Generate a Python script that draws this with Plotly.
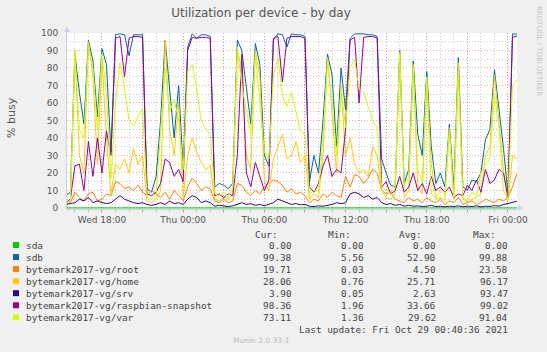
import plotly.graph_objects as go
import pandas as pd

# ---------------- data ----------------
times = pd.date_range("2021-10-27 15:20", "2021-10-29 00:40", freq="20min")

sda = [0, 0, 0, 0, 0, 0, 0, 0, 0, 0, 0, 0, 0, 0, 0, 0, 0, 0, 0, 0,
       0, 0, 0, 0, 0, 0, 0, 0, 0, 0, 0, 0, 0, 0, 0, 0, 0, 0, 0, 0,
       0, 0, 0, 0, 0, 0, 0, 0, 0, 0, 0, 0, 0, 0, 0, 0, 0, 0, 0, 0,
       0, 0, 0, 0, 0, 0, 0, 0, 0, 0, 0, 0, 0, 0, 0, 0, 0, 0, 0, 0,
       0, 0, 0, 0, 0, 0, 0, 0, 0, 0, 0, 0, 0, 0, 0, 0, 0, 0, 0, 0,
       0]

sdb = [7, 9, 88, 66, 48, 96, 84, 52, 91, 82,
       32, 99, 99.5, 99, 87, 99, 99, 99, 11, 9,
       18, 50, 96, 66, 40, 70, 22, 92, 99.5, 97,
       99, 99, 98, 12, 14, 13, 11, 14, 96, 90,
       70, 48, 94, 82, 30, 24, 96, 99.5, 99, 92,
       99.5, 99, 99, 98, 15, 30, 20, 50, 88, 76,
       35, 80, 56, 97, 99.5, 99.5, 99.5, 99, 99, 98,
       28, 20, 13, 12, 90, 14, 22, 84, 42, 30,
       78, 35, 14, 20, 12, 48, 11, 86, 12, 10,
       16, 15, 20, 39, 45, 79, 57, 34, 8, 99.5,
       99.38]

root = [2, 3, 9, 6, 4, 8, 9, 4, 5, 8,
        7, 15, 14, 11, 12, 10, 13, 9, 7, 10,
        8, 6, 9, 5, 10, 7, 4, 12, 17, 14,
        10, 12, 11, 4, 3, 5, 3, 4, 14, 13,
        9, 7, 10, 8, 12, 14, 16, 15, 13, 9,
        11, 8, 9, 7, 3, 5, 4, 8, 6, 9,
        7, 6, 18, 12, 19, 18, 14, 17, 22, 20,
        10, 8, 9, 5, 4, 3, 6, 4, 5, 3,
        6, 4, 3, 5, 2, 4, 3, 6, 2, 3,
        4, 2, 3, 5, 4, 3, 5, 4, 6, 12,
        19.71]

home = [2, 3, 90, 30, 20, 95, 75, 25, 85, 40,
        8, 25, 22, 28, 20, 34, 25, 30, 4, 3,
        5, 10, 96, 45, 30, 60, 6, 30, 40, 32,
        26, 22, 24, 5, 4, 6, 5, 8, 90, 80,
        30, 22, 90, 75, 15, 10, 28, 35, 42, 28,
        30, 38, 26, 30, 5, 8, 6, 30, 86, 55,
        20, 70, 30, 40, 25, 20, 22, 18, 35, 30,
        10, 6, 5, 8, 89, 6, 10, 82, 12, 8,
        74, 25, 5, 6, 4, 46, 5, 83, 6, 3,
        5, 6, 8, 30, 35, 76, 50, 22, 4, 30,
        28.06]

srv = [2, 2.5, 3, 5, 4, 6, 3, 4, 3, 2.5,
       3, 5, 7, 5, 4, 3, 2.5, 3, 2, 1.5,
       2, 3, 2, 4, 2.5, 3, 2, 5, 7, 6,
       3, 4, 3, 1, 1.5, 1, 0.8, 1.2, 2, 3,
       2, 2.5, 1.5, 2, 1.2, 2, 3, 5, 4, 3,
       2, 2.5, 1.8, 2, 1, 0.8, 1.2, 1, 1.5, 2,
       3, 2.5, 3, 8, 9, 8, 6, 7, 5, 6,
       3, 2, 2.5, 1.5, 2, 1, 1.5, 1, 1.2, 0.8,
       1, 1.5, 0.8, 1, 0.6, 1, 0.8, 1.2, 0.7, 1,
       0.8, 1.2, 0.6, 1, 0.9, 1.3, 1, 2, 2.5, 3,
       3.9]

raspbian = [3, 5, 24, 25, 10, 38, 18, 40, 20, 44,
            30, 97, 98, 75, 97, 98, 98, 97.5, 8, 7,
            9, 14, 28, 26, 18, 22, 15, 90, 97.5, 97,
            97.5, 97.5, 97, 7, 8, 6, 8, 7, 30, 88,
            20, 12, 26, 18, 10, 16, 97, 98, 72, 97,
            98, 98, 98, 97, 12, 9, 14, 24, 30, 18,
            22, 20, 45, 96, 97.5, 60, 97.5, 98, 98, 97,
            12, 15, 8, 10, 18, 9, 12, 20, 10, 14,
            8, 18, 10, 12, 9, 12, 6, 8, 7, 13,
            10, 16, 9, 22, 14, 16, 22, 20, 6, 97.5,
            98.36]

var = [3, 4, 88, 45, 40, 93, 80, 45, 88, 65,
       17, 60, 83, 68, 50, 47, 52, 57, 6, 5,
       7, 45, 80, 55, 62, 50, 22, 78, 82, 68,
       50, 45, 42, 8, 7, 9, 6, 12, 92, 70,
       55, 42, 88, 62, 32, 28, 75, 86, 64, 58,
       66, 55, 44, 42, 8, 10, 9, 40, 84, 60,
       30, 68, 46, 80, 85, 68, 66, 58, 50, 46,
       12, 10, 8, 14, 88, 12, 18, 80, 22, 15,
       75, 8, 6, 10, 7, 44, 6, 78, 5, 4,
       9, 7, 20, 25, 28, 65, 46, 10, 5, 70,
       73.11]

series_names = ["sda", "sdb", "bytemark2017-vg/root", "bytemark2017-vg/home",
                "bytemark2017-vg/srv", "bytemark2017-vg/raspbian-snapshot",
                "bytemark2017-vg/var"]
series_values = [sda, sdb, root, home, srv, raspbian, var]
series_colors = ["#00CC00", "#0066B3", "#FF8000", "#FFCC00", "#330099", "#990099", "#CCFF00"]

cur_vals = [0.00, 99.38, 19.71, 28.06, 3.90, 98.36, 73.11]
min_vals = [0.00, 5.56, 0.03, 0.76, 0.05, 1.96, 1.36]
avg_vals = [0.00, 52.90, 4.50, 25.71, 2.63, 33.66, 29.62]
max_vals = [0.00, 99.88, 23.58, 96.17, 93.47, 99.02, 91.04]

tick_times = pd.date_range("2021-10-27 18:00", "2021-10-29 00:00", freq="3h")
tick_labels = ["Wed 18:00", "", "Thu 00:00", "", "Thu 06:00", "", "Thu 12:00", "",
               "Thu 18:00", "", "Fri 00:00"]

# ---------------- layout helpers ----------------
W, H = 547, 352
L, R, T, B = 67, 30, 33, 143
PW = W - L - R
PH = H - T - B


def px(x):
    return (x - L) / PW


def py(y):
    return (H - B - y) / PH


AXIS_FONT = dict(family="DejaVu Sans", size=9, color="#555555")
MONO = dict(family="DejaVu Sans Mono", size=9.4, color="#444444")
MAJOR = "rgba(225,110,110,0.6)"
MINOR = "rgba(160,160,160,0.55)"
DOTS = "1px,2px"
AXISC = "#C9D0F2"

fig = go.Figure()
for name, vals, col in zip(series_names, series_values, series_colors):
    fig.add_trace(go.Scatter(x=times, y=vals, name=name, mode="lines",
                             line=dict(color=col, width=1), hoverinfo="skip"))

fig.update_layout(
    template="none",
    width=W, height=H,
    margin=dict(l=L, r=R, t=T, b=B, pad=0),
    paper_bgcolor="#F0F0F0",
    plot_bgcolor="#FFFFFF",
    showlegend=False,
    title=dict(text="Utilization per device - by day", x=261 / W, xanchor="center",
               y=1 - 13 / H, yanchor="middle", yref="container",
               font=dict(family="DejaVu Sans", size=12, color="#555555")),
    xaxis=dict(type="date", range=["2021-10-27 15:25", "2021-10-29 00:40"],
               tickmode="array", tickvals=tick_times, ticktext=tick_labels,
               showgrid=True, gridcolor=MAJOR, griddash=DOTS, gridwidth=1,
               ticks="outside", ticklen=2, tickcolor="#E08080",
               minor=dict(dtick=3600000, tick0="2021-10-27 00:00", showgrid=True,
                          gridcolor=MINOR, griddash=DOTS, ticks="outside",
                          ticklen=2, tickcolor="#BBBBBB"),
               showline=True, linecolor=AXISC, linewidth=1, zeroline=False,
               tickfont=AXIS_FONT, automargin=False, fixedrange=True),
    yaxis=dict(range=[-0.6, 100], tickmode="linear", tick0=0, dtick=10,
               showgrid=True, gridcolor=MAJOR, griddash=DOTS, gridwidth=1,
               minor=dict(dtick=5, tick0=0, showgrid=True, gridcolor=MINOR,
                          griddash=DOTS),
               ticks="", ticklabelstandoff=6,
               showline=True, linecolor=AXISC, linewidth=1, zeroline=False,
               tickfont=AXIS_FONT, automargin=False, fixedrange=True),
)

shapes = []
# axis arrows
shapes.append(dict(type="path", xref="paper", yref="paper",
                   path=f"M {px(64)} {py(32)} L {px(70)} {py(32)} L {px(67)} {py(26.5)} Z",
                   fillcolor=AXISC, line=dict(width=0)))
shapes.append(dict(type="line", xref="paper", yref="paper", x0=px(67), x1=px(67),
                   y0=py(33), y1=py(31), line=dict(color=AXISC, width=1)))
shapes.append(dict(type="path", xref="paper", yref="paper",
                   path=f"M {px(518)} {py(205)} L {px(518)} {py(211)} L {px(523.5)} {py(208)} Z",
                   fillcolor=AXISC, line=dict(width=0)))

annotations = []
annotations.append(dict(text="% busy", xref="paper", yref="paper", x=px(11), y=py(118),
                        textangle=-90, showarrow=False, xanchor="center", yanchor="middle",
                        font=dict(family="DejaVu Sans", size=11, color="#555555")))
annotations.append(dict(text="RRDTOOL / TOBI OETIKER", xref="paper", yref="paper",
                        x=px(539), y=py(51), textangle=90, showarrow=False,
                        xanchor="center", yanchor="middle",
                        font=dict(family="DejaVu Sans", size=7, color="#C4C4C4")))

# legend table
col_right = [292.7, 365.0, 437.3, 509.3]
hdr_right = [279.3, 351.7, 423.3, 496.7]
hdr_text = ["Cur:", "Min:", "Avg:", "Max:"]
for xr, t in zip(hdr_right, hdr_text):
    annotations.append(dict(text=t, xref="paper", yref="paper", x=px(xr), y=py(234),
                            xanchor="right", yanchor="middle", showarrow=False,
                            font=MONO, borderpad=0))
for k, name in enumerate(series_names):
    yc = 245 + 12.05 * k
    shapes.append(dict(type="rect", xref="paper", yref="paper",
                       x0=px(13), x1=px(19), y0=py(yc - 3), y1=py(yc + 3),
                       fillcolor=series_colors[k], line=dict(width=0)))
    annotations.append(dict(text=name, xref="paper", yref="paper", x=px(25), y=py(yc),
                            xanchor="left", yanchor="middle", showarrow=False,
                            font=MONO, borderpad=0))
    for xr, arr in zip(col_right, [cur_vals, min_vals, avg_vals, max_vals]):
        annotations.append(dict(text=f"{arr[k]:.2f}", xref="paper", yref="paper",
                                x=px(xr), y=py(yc), xanchor="right", yanchor="middle",
                                showarrow=False, font=MONO, borderpad=0))

annotations.append(dict(text="Last update: Fri Oct 29 00:40:36 2021", xref="paper",
                        yref="paper", x=px(509.3), y=py(329.3), xanchor="right",
                        yanchor="middle", showarrow=False, font=MONO, borderpad=0))
annotations.append(dict(text="Munin 2.0.33-1", xref="paper", yref="paper",
                        x=px(261.5), y=py(340.7), xanchor="center", yanchor="middle",
                        showarrow=False, borderpad=0,
                        font=dict(family="DejaVu Sans", size=7.5, color="#BBBBBB")))

fig.update_layout(shapes=shapes, annotations=annotations)
fig.write_html("out.html", config={"displayModeBar": False})
